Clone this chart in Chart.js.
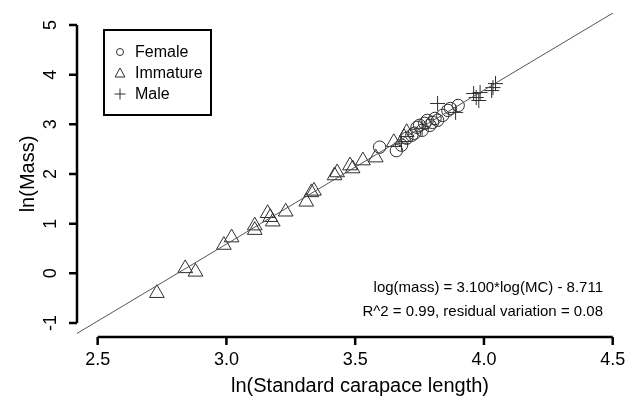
<!DOCTYPE html>
<html>
<head>
<meta charset="utf-8">
<script src="https://cdn.jsdelivr.net/npm/chart.js@4.4.1/dist/chart.umd.min.js"></script>
<style>
html,body{margin:0;padding:0;background:#fff;}
#wrap{width:634px;height:403px;position:relative;}
</style>
</head>
<body>
<div id="wrap"><canvas id="c" width="634" height="403"></canvas></div>
<script>
// ---- data ----
const femaleX = [3.595, 3.66, 3.68, 3.70, 3.72, 3.73, 3.74, 3.75, 3.76, 3.77, 3.78, 3.79, 3.80, 3.81, 3.82, 3.84, 3.86, 3.87, 3.90];
const femaleY = [2.54, 2.47, 2.58, 2.72, 2.78, 2.82, 2.94, 2.98, 2.88, 3.02, 3.08, 2.98, 3.04, 3.12, 3.08, 3.18, 3.28, 3.32, 3.38];

const immatureX = [2.73, 2.84, 2.88, 2.99, 3.02, 3.11, 3.11, 3.16, 3.17, 3.18, 3.23, 3.31, 3.33, 3.34, 3.42, 3.43, 3.48, 3.49, 3.53, 3.58, 3.65, 3.69, 3.70];
const immatureY = [-0.40, 0.10, 0.03, 0.57, 0.72, 0.96, 0.87, 1.21, 1.13, 1.04, 1.24, 1.44, 1.63, 1.66, 1.97, 2.03, 2.17, 2.11, 2.27, 2.33, 2.64, 2.74, 2.84];

const maleX = [3.68, 3.76, 3.82, 3.89, 3.96, 3.97, 3.98, 3.985, 4.03, 4.035, 4.045];
const maleY = [2.62, 2.92, 3.42, 3.24, 3.62, 3.54, 3.48, 3.64, 3.68, 3.74, 3.82];

const seriesNames = ['Female', 'Immature', 'Male'];
const xTicks = [2.5, 3.0, 3.5, 4.0, 4.5];
const yTicks = [-1, 0, 1, 2, 3, 4, 5];
const xTickLabels = ['2.5', '3.0', '3.5', '4.0', '4.5'];
const yTickLabels = ['-1', '0', '1', '2', '3', '4', '5'];
const fitSlope = 3.100;
const fitIntercept = -8.711;
const xTitle = 'ln(Standard carapace length)';
const yTitle = 'ln(Mass)';
const annotation = ['log(mass) = 3.100*log(MC) - 8.711', 'R^2 = 0.99, residual variation = 0.08'];

// ---- chart ----
const X_MIN = 2.4198, X_MAX = 4.5458, Y_MIN = -1.2617, Y_MAX = 5.2416;
const FONT = '"Liberation Sans", Arial, sans-serif';
const MARK = '#2e2e2e';

function pts(xs, ys) { return xs.map((x, i) => ({x: x, y: ys[i]})); }

const axesPlugin = {
  id: 'rAxes',
  afterDraw(chart) {
    const ctx = chart.ctx, xs = chart.scales.x, ys = chart.scales.y, ca = chart.chartArea;
    ctx.save();
    ctx.strokeStyle = '#000';
    ctx.fillStyle = '#000';
    ctx.lineWidth = 2.5;
    ctx.lineCap = 'butt';
    // x axis
    const yAx = ca.bottom + 1;
    ctx.beginPath();
    ctx.moveTo(xs.getPixelForValue(xTicks[0]), yAx);
    ctx.lineTo(xs.getPixelForValue(xTicks[xTicks.length - 1]), yAx);
    xTicks.forEach(v => { const p = xs.getPixelForValue(v); ctx.moveTo(p, yAx); ctx.lineTo(p, yAx + 8); });
    ctx.stroke();
    ctx.font = '18px ' + FONT;
    ctx.textAlign = 'center';
    ctx.textBaseline = 'middle';
    xTicks.forEach((v, i) => ctx.fillText(xTickLabels[i], xs.getPixelForValue(v), 360));
    // y axis
    const xAx = ca.left;
    ctx.beginPath();
    ctx.moveTo(xAx, ys.getPixelForValue(yTicks[0]));
    ctx.lineTo(xAx, ys.getPixelForValue(yTicks[yTicks.length - 1]));
    yTicks.forEach(v => { const p = ys.getPixelForValue(v); ctx.moveTo(xAx, p); ctx.lineTo(xAx - 8, p); });
    ctx.stroke();
    yTicks.forEach((v, i) => {
      ctx.save();
      ctx.translate(51, ys.getPixelForValue(v));
      ctx.rotate(-Math.PI / 2);
      ctx.fillText(yTickLabels[i], 0, 0);
      ctx.restore();
    });
    // titles
    ctx.font = '20px ' + FONT;
    ctx.fillText(xTitle, 360, 386);
    ctx.save();
    ctx.translate(28, 174);
    ctx.rotate(-Math.PI / 2);
    ctx.fillText(yTitle, 0, 0);
    ctx.restore();
    // annotation
    ctx.font = '15px ' + FONT;
    ctx.textAlign = 'right';
    ctx.fillText(annotation[0], 603, 288);
    ctx.fillText(annotation[1], 603, 312);
    // legend
    ctx.lineWidth = 2;
    ctx.strokeRect(104, 30, 107, 85);
    ctx.font = '16px ' + FONT;
    ctx.textAlign = 'left';
    ctx.strokeStyle = MARK;
    ctx.lineWidth = 1;
    const rows = [52, 73, 94];
    seriesNames.forEach((name, i) => {
      const cx = 120, cy = rows[i];
      ctx.beginPath();
      if (i === 0) { ctx.arc(cx, cy, 3.5, 0, Math.PI * 2); }
      else if (i === 1) { ctx.moveTo(cx, cy - 5); ctx.lineTo(cx + 5, cy + 4); ctx.lineTo(cx - 5, cy + 4); ctx.closePath(); }
      else { ctx.moveTo(cx - 5.5, cy); ctx.lineTo(cx + 5.5, cy); ctx.moveTo(cx, cy - 5.5); ctx.lineTo(cx, cy + 5.5); }
      ctx.stroke();
      ctx.fillStyle = '#000';
      ctx.fillText(name, 135, cy + 1);
    });
    ctx.restore();
  }
};

new Chart(document.getElementById('c'), {
  type: 'scatter',
  data: {
    datasets: [
      {
        type: 'line', label: 'fit',
        data: [{x: X_MIN, y: fitSlope * X_MIN + fitIntercept}, {x: X_MAX, y: fitSlope * X_MAX + fitIntercept}],
        borderColor: '#555', borderWidth: 1, pointRadius: 0, fill: false, order: 0
      },
      { label: seriesNames[0], data: pts(femaleX, femaleY), pointStyle: 'circle', pointRadius: 6.2,
        borderColor: MARK, backgroundColor: 'rgba(0,0,0,0)', borderWidth: 1 },
      { label: seriesNames[1], data: pts(immatureX, immatureY), pointStyle: 'triangle', pointRadius: 8.5,
        borderColor: MARK, backgroundColor: 'rgba(0,0,0,0)', borderWidth: 1 },
      { label: seriesNames[2], data: pts(maleX, maleY), pointStyle: 'cross', pointRadius: 7.5,
        borderColor: MARK, backgroundColor: 'rgba(0,0,0,0)', borderWidth: 1 }
    ]
  },
  options: {
    responsive: false,
    animation: false,
    devicePixelRatio: 1,
    layout: { padding: { left: 77, top: 13, right: 0, bottom: 67 } },
    plugins: { legend: { display: false }, tooltip: { enabled: false } },
    scales: {
      x: { type: 'linear', min: X_MIN, max: X_MAX, display: false },
      y: { type: 'linear', min: Y_MIN, max: Y_MAX, display: false }
    }
  },
  plugins: [axesPlugin]
});
</script>
</body>
</html>
